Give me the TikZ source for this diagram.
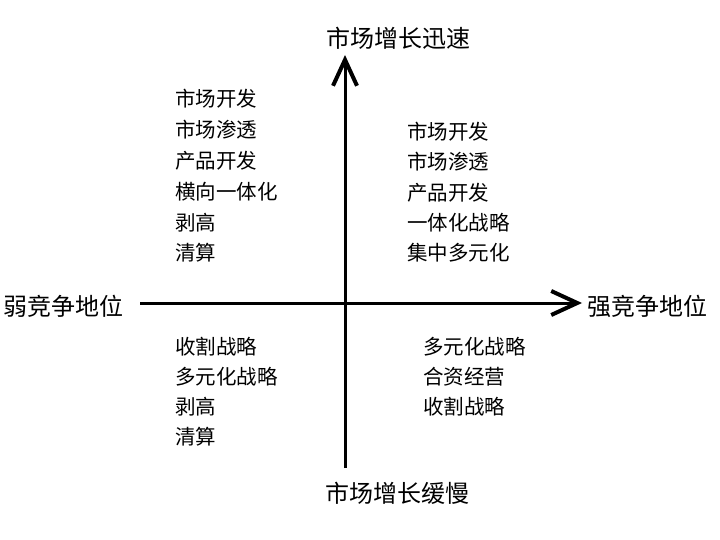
\documentclass[tikz,border=0pt]{standalone}
\usepackage{fontspec}
\newfontfamily\cjk{Noto Sans CJK SC}
\usetikzlibrary{arrows.meta}
\tikzset{
  axis label/.style={font=\cjk\fontsize{24}{24}\selectfont, inner sep=0pt, anchor=base},
  quad item/.style={font=\cjk\fontsize{20.5}{20.5}\selectfont, inner sep=0pt, anchor=base west},
  axis line/.style={line width=3pt, -{Straight Barb[length=26pt,width=24pt,line width=4pt]}},
}

\begin{document}
\begin{tikzpicture}[x=1pt,y=-1pt]
  \useasboundingbox (0,0) rectangle (720,540);

  % axes
  \coordinate (west) at (140,303);
  \coordinate (east) at (582,303);
  \coordinate (south) at (345,468);
  \coordinate (north) at (345,55);
  \draw[axis line] (west) -- (east);
  \draw[axis line] (south) -- (north);

  \node[axis label] (fast) at (398,48) {市场增长迅速};
  \node[axis label] (slow) at (397,502) {市场增长缓慢};
  \node[axis label] (weak) at (64,315) {弱竞争地位};
  \node[axis label] (strong) at (647,315) {强竞争地位};

  % quadrants
  \foreach \t [count=\i] in {市场开发,市场渗透,产品开发,横向一体化,剥高,清算}
    \node[quad item] (tl\i) at (175,{106.8+30.8*(\i-1)}) {\t};
  \foreach \t [count=\i] in {市场开发,市场渗透,产品开发,一体化战略,集中多元化}
    \node[quad item] (tr\i) at (407,{139.8+30.2*(\i-1)}) {\t};
  \foreach \t [count=\i] in {收割战略,多元化战略,剥高,清算}
    \node[quad item] (bl\i) at (175,{354.8+30*(\i-1)}) {\t};
  \foreach \t [count=\i] in {多元化战略,合资经营,收割战略}
    \node[quad item] (br\i) at (423,{354.8+30*(\i-1)}) {\t};

\end{tikzpicture}
\end{document}
